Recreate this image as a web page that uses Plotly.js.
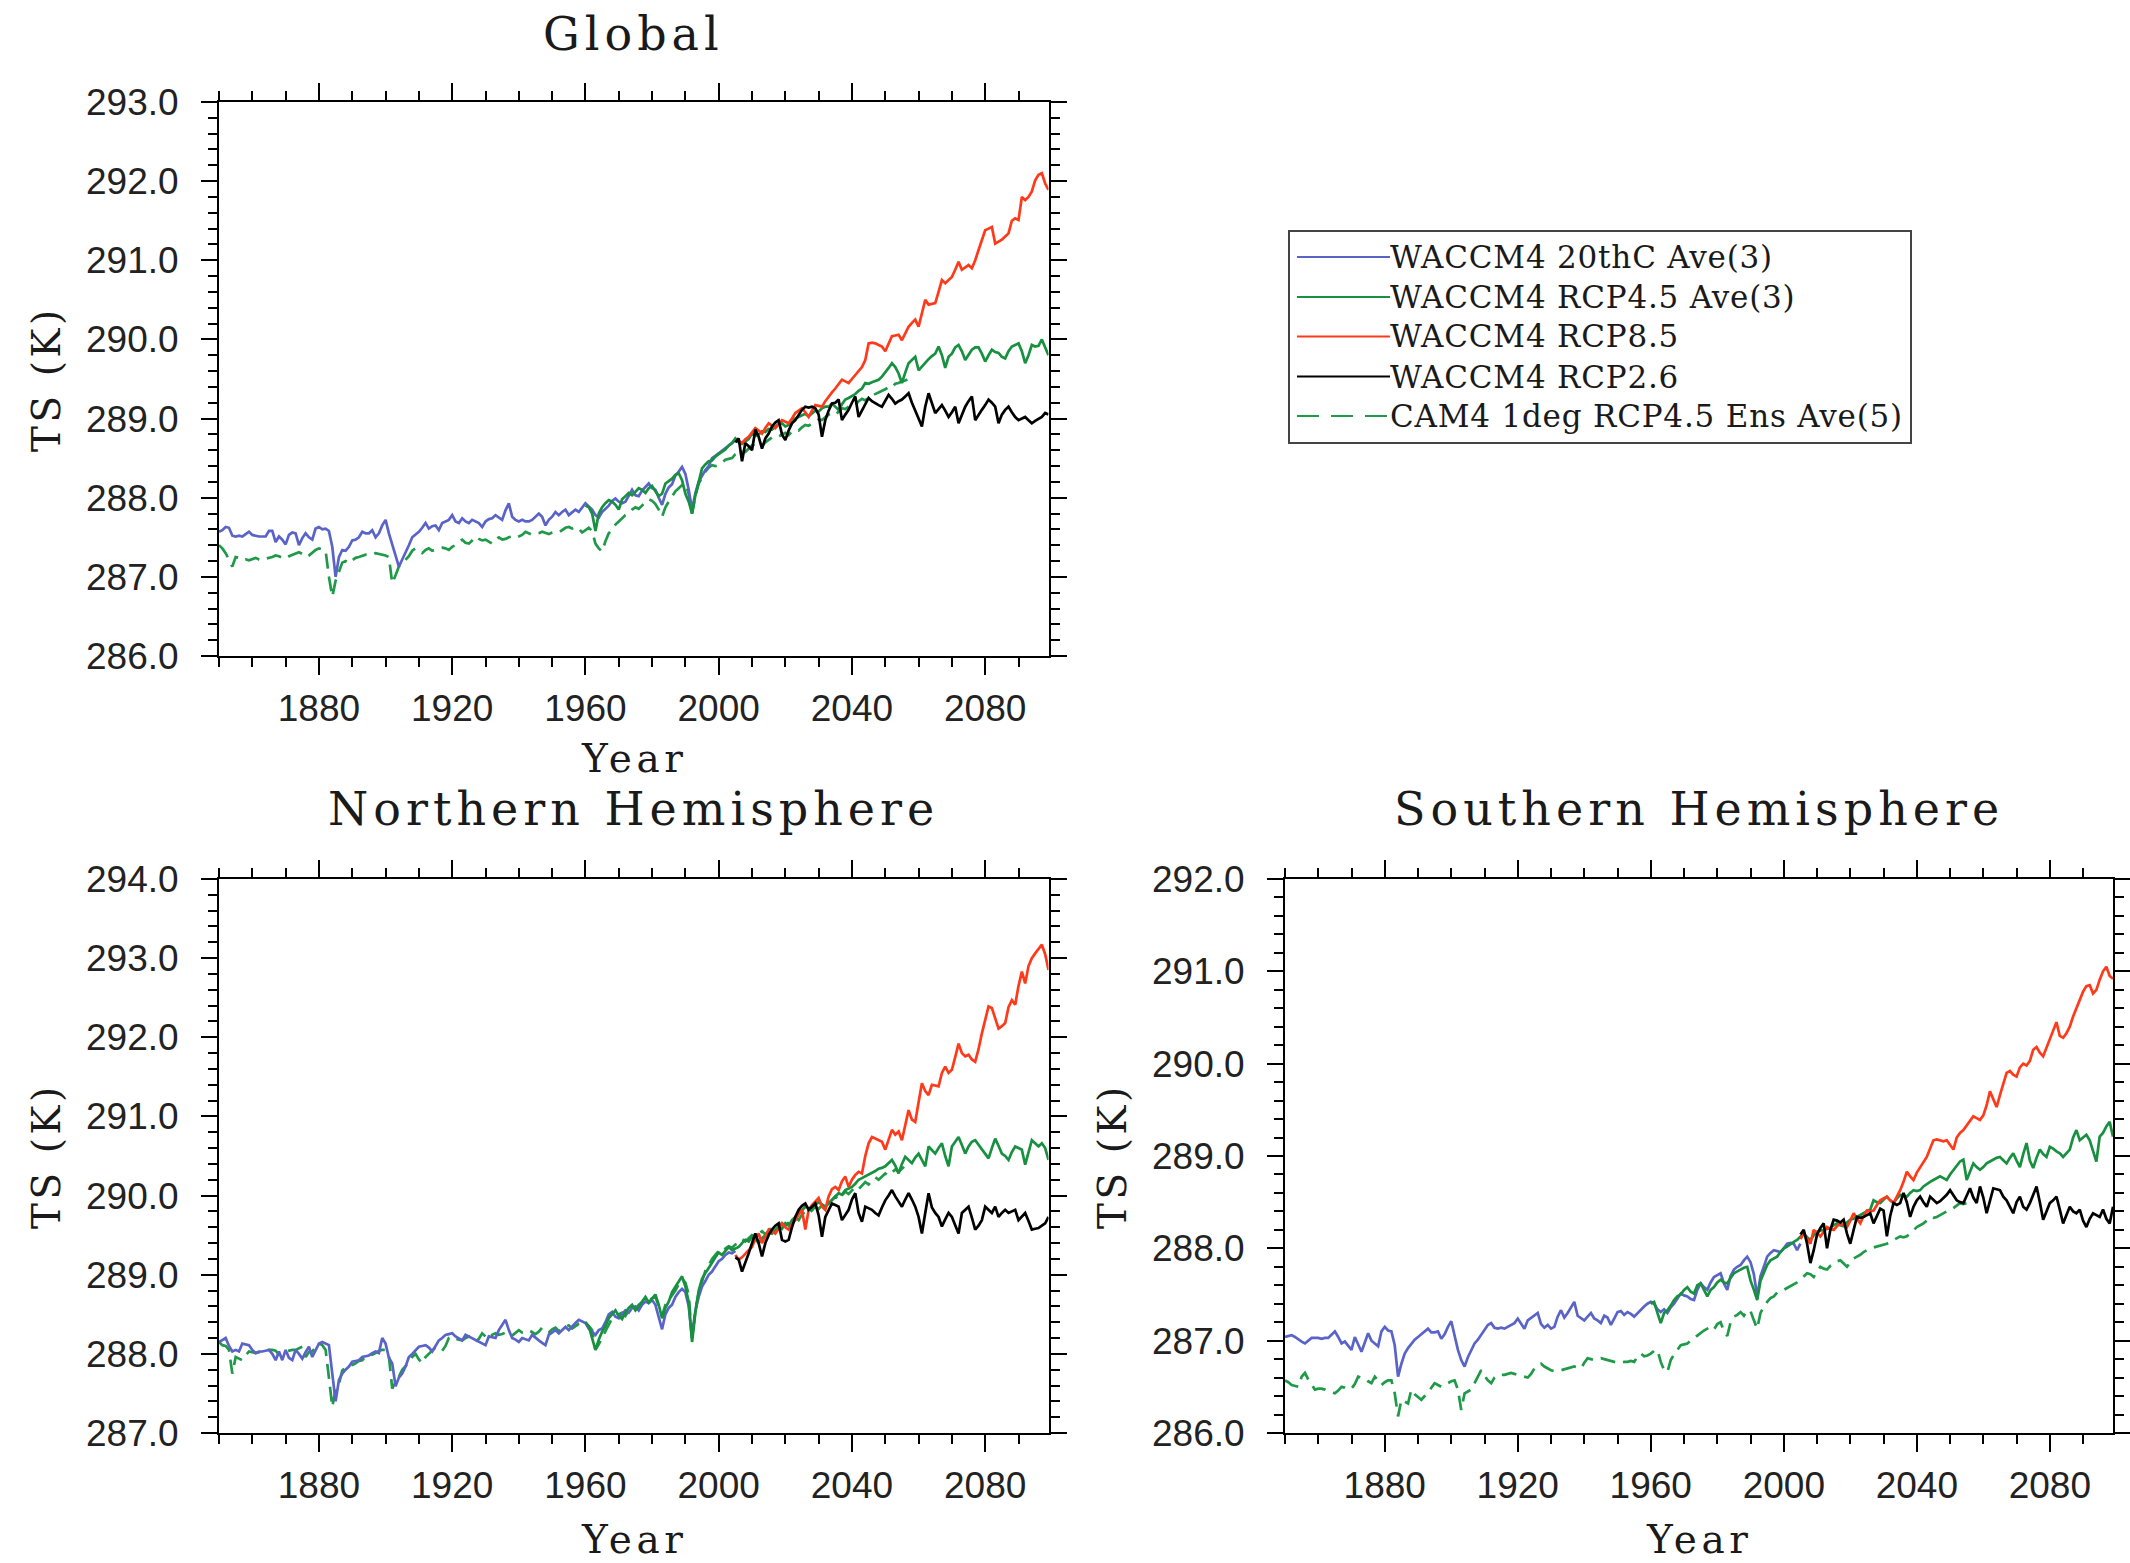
<!DOCTYPE html>
<html>
<head>
<meta charset="utf-8">
<script src="https://cdn.plot.ly/plotly-3.0.1.min.js"></script>
<style>
  html, body { margin: 0; padding: 0; background: #ffffff; }
  #chart { width: 2130px; height: 1563px; }
</style>
</head>
<body>
<div id="chart"></div>
<script>
// Annual-mean surface temperature TS (K): WACCM4 historical and RCP runs, CAM4 ensemble.

// ---------- Global ----------
const globalHist = [ // WACCM4 20thC Ave(3), 1850-2005
  287.57, 287.59, 287.63, 287.62, 287.52, 287.51, 287.52, 287.51, 287.54, 287.57,
  287.53, 287.52, 287.51, 287.51, 287.51, 287.58, 287.58, 287.44, 287.51, 287.47,
  287.41, 287.53, 287.56, 287.55, 287.40, 287.49, 287.55, 287.50, 287.47, 287.61,
  287.63, 287.60, 287.61, 287.58, 287.38, 287.00, 287.25, 287.34, 287.33, 287.38,
  287.46, 287.47, 287.50, 287.57, 287.55, 287.55, 287.59, 287.50, 287.55, 287.65,
  287.72, 287.55, 287.40, 287.25, 287.13, 287.22, 287.30, 287.40, 287.50, 287.53,
  287.57, 287.62, 287.68, 287.61, 287.64, 287.65, 287.59, 287.68, 287.70, 287.72,
  287.78, 287.70, 287.68, 287.74, 287.70, 287.68, 287.72, 287.70, 287.68, 287.63,
  287.70, 287.73, 287.74, 287.78, 287.75, 287.72, 287.84, 287.93, 287.76, 287.72,
  287.70, 287.72, 287.70, 287.70, 287.72, 287.76, 287.80, 287.76, 287.65, 287.72,
  287.76, 287.82, 287.78, 287.82, 287.85, 287.78, 287.82, 287.85, 287.82, 287.88,
  287.93, 287.89, 287.85, 287.78, 287.75, 287.82, 287.86, 287.90, 287.96, 287.99,
  287.95, 287.93, 287.95, 288.02, 288.10, 288.03, 288.02, 288.09, 288.14, 288.18,
  288.12, 288.10, 288.00, 287.91, 288.05, 288.13, 288.17, 288.28, 288.33, 288.39,
  288.30, 288.10, 287.85, 288.06, 288.20, 288.27, 288.35, 288.40, 288.50, 288.53,
  288.56, 288.60, 288.63, 288.65, 288.69, 288.73
];
const globalRcp45 = [ // WACCM4 RCP4.5 Ave(3), 1960-2099
  287.90, 287.88, 287.80, 287.58, 287.80, 287.88, 287.93, 287.97, 287.95, 287.91,
  287.85, 287.98, 288.02, 288.06, 288.03, 288.07, 288.12, 288.10, 288.06, 288.12,
  288.15, 288.08, 288.02, 288.05, 288.18, 288.21, 288.24, 288.29, 288.31, 288.22,
  288.05, 287.95, 287.80, 288.03, 288.20, 288.37, 288.42, 288.46, 288.47, 288.52,
  288.55, 288.58, 288.61, 288.66, 288.69, 288.75, 288.70, 288.68, 288.71, 288.74,
  288.81, 288.78, 288.80, 288.84, 288.83, 288.87, 288.86, 288.90, 288.93, 288.94,
  288.90, 288.92, 288.99, 289.00, 289.02, 289.04, 289.06, 289.03, 289.07, 289.10,
  289.09, 289.13, 289.15, 289.15, 289.19, 289.15, 289.11, 289.18, 289.24, 289.26,
  289.28, 289.31, 289.35, 289.38, 289.45, 289.44, 289.46, 289.48, 289.49, 289.53,
  289.58, 289.64, 289.70, 289.65, 289.57, 289.45, 289.58, 289.70, 289.74, 289.78,
  289.61, 289.66, 289.70, 289.75, 289.79, 289.82, 289.91, 289.80, 289.64, 289.78,
  289.82, 289.90, 289.93, 289.85, 289.74, 289.80, 289.87, 289.90, 289.90, 289.82,
  289.72, 289.80, 289.87, 289.84, 289.83, 289.78, 289.76, 289.85, 289.91, 289.93,
  289.95, 289.85, 289.70, 289.80, 289.93, 289.91, 289.92, 290.00, 289.90, 289.80
];
const globalRcp85 = [ // WACCM4 RCP8.5, 2005-2099
  288.73, 288.72, 288.69, 288.74, 288.77,
  288.83, 288.88, 288.85, 288.81, 288.88, 288.94, 288.91, 288.88, 288.93, 288.98,
  288.96, 288.94, 289.00, 289.07, 289.10, 289.13, 289.08, 289.02, 289.10, 289.17,
  289.16, 289.15, 289.22, 289.28, 289.33, 289.38, 289.44, 289.49, 289.47, 289.45,
  289.50, 289.55, 289.59, 289.65, 289.74, 289.95, 289.96, 289.95, 289.93, 289.91,
  289.85, 289.95, 290.04, 290.05, 290.06, 289.99, 290.08, 290.16, 290.21, 290.25,
  290.16, 290.33, 290.50, 290.44, 290.45, 290.46, 290.60, 290.75, 290.71, 290.75,
  290.79, 290.88, 290.98, 290.88, 290.91, 290.94, 290.90, 291.00, 291.13, 291.25,
  291.38, 291.40, 291.42, 291.21, 291.23, 291.26, 291.30, 291.34, 291.50, 291.53,
  291.51, 291.80, 291.76, 291.80, 291.87, 292.01, 292.08, 292.10, 291.97, 291.89
];
const globalRcp26 = [ // WACCM4 RCP2.6, 2005-2099
  288.70, 288.75, 288.46, 288.69, 288.65,
  288.60, 288.86, 288.77, 288.62, 288.75, 288.81, 288.90, 288.95, 288.98, 288.80,
  288.73, 288.85, 288.94, 288.98, 289.05, 289.11, 289.15, 289.14, 289.15, 289.13,
  289.05, 288.77, 288.98, 289.10, 289.19, 289.20, 289.24, 288.98, 289.05, 289.11,
  289.20, 289.28, 289.02, 289.10, 289.19, 289.26, 289.22, 289.19, 289.17, 289.15,
  289.22, 289.30, 289.25, 289.19, 289.22, 289.24, 289.28, 289.32, 289.20, 289.11,
  289.00, 288.90, 289.15, 289.32, 289.20, 289.07, 289.12, 289.17, 289.10, 289.02,
  289.08, 289.15, 288.94, 289.05, 289.15, 289.22, 289.28, 288.98, 289.05, 289.11,
  289.17, 289.24, 289.20, 289.15, 288.94, 289.05, 289.11, 289.15, 289.08, 289.02,
  288.98, 289.00, 289.02, 288.98, 288.94, 288.97, 289.00, 289.02, 289.07, 289.05
];
const globalCam4 = [ // CAM4 1deg RCP4.5 Ens Ave(5), 1850-2057
  287.40, 287.36, 287.30, 287.22, 287.13, 287.25, 287.24, 287.21, 287.22, 287.21,
  287.23, 287.24, 287.22, 287.21, 287.23, 287.24, 287.25, 287.27, 287.26, 287.24,
  287.23, 287.26, 287.28, 287.30, 287.31, 287.29, 287.25, 287.27, 287.31, 287.34,
  287.36, 287.34, 287.33, 287.00, 286.75, 286.95, 287.08, 287.18, 287.20, 287.17,
  287.21, 287.24, 287.25, 287.27, 287.28, 287.27, 287.28, 287.30, 287.29, 287.28,
  287.27, 287.25, 286.92, 287.02, 287.13, 287.17, 287.21, 287.26, 287.33, 287.36,
  287.33, 287.30, 287.34, 287.36, 287.33, 287.34, 287.36, 287.37, 287.36, 287.34,
  287.38, 287.40, 287.44, 287.47, 287.43, 287.42, 287.46, 287.51, 287.48, 287.46,
  287.47, 287.44, 287.42, 287.47, 287.50, 287.47, 287.48, 287.50, 287.51, 287.49,
  287.51, 287.53, 287.57, 287.55, 287.53, 287.54, 287.55, 287.57, 287.55, 287.54,
  287.56, 287.57, 287.56, 287.59, 287.62, 287.63, 287.61, 287.63, 287.61, 287.56,
  287.59, 287.62, 287.58, 287.42, 287.36, 287.32, 287.45, 287.55, 287.60, 287.66,
  287.70, 287.74, 287.78, 287.80, 287.85, 287.88, 287.86, 287.90, 287.95, 287.98,
  287.96, 287.92, 287.85, 287.76, 287.88, 287.95, 288.02, 288.08, 288.12, 288.16,
  288.18, 288.05, 287.80, 288.02, 288.18, 288.26, 288.33, 288.38, 288.41, 288.40,
  288.41, 288.44, 288.48, 288.49, 288.50, 288.55, 288.57, 288.60, 288.58, 288.62,
  288.66, 288.68, 288.70, 288.65, 288.70, 288.73, 288.76, 288.75, 288.77, 288.80,
  288.82, 288.79, 288.84, 288.86, 288.85, 288.89, 288.92, 288.91, 288.94, 288.97,
  288.99, 288.98, 289.01, 289.05, 289.06, 289.04, 289.09, 289.13, 289.12, 289.15,
  289.18, 289.17, 289.22, 289.25, 289.23, 289.27, 289.29, 289.30, 289.33, 289.34,
  289.37, 289.40, 289.39, 289.44, 289.45, 289.47, 289.48, 289.50
];

// ---------- Northern Hemisphere ----------
const nhHist = [
  288.15, 288.17, 288.20, 288.10, 288.03, 288.05, 288.03, 288.13, 288.12, 288.11,
  288.05, 288.01, 288.03, 288.03, 288.04, 288.05, 288.00, 287.92, 288.03, 287.92,
  288.05, 287.95, 287.92, 288.05, 288.00, 287.94, 288.02, 288.09, 287.96, 288.05,
  288.13, 288.15, 288.13, 288.11, 287.75, 287.40, 287.67, 287.75, 287.80, 287.84,
  287.90, 287.91, 287.92, 287.96, 287.97, 287.98, 288.01, 288.03, 288.01, 288.20,
  288.13, 287.95, 287.88, 287.59, 287.70, 287.75, 287.84, 287.96, 288.00, 288.05,
  288.09, 288.10, 288.11, 288.08, 288.03, 288.10, 288.17, 288.20, 288.24, 288.25,
  288.26, 288.22, 288.20, 288.17, 288.24, 288.22, 288.20, 288.18, 288.15, 288.13,
  288.11, 288.22, 288.21, 288.20, 288.30, 288.36, 288.43, 288.30, 288.20, 288.18,
  288.15, 288.20, 288.18, 288.17, 288.24, 288.20, 288.17, 288.14, 288.11, 288.24,
  288.27, 288.30, 288.26, 288.30, 288.34, 288.30, 288.35, 288.39, 288.43, 288.41,
  288.39, 288.32, 288.28, 288.24, 288.30, 288.32, 288.40, 288.50, 288.53, 288.47,
  288.45, 288.50, 288.55, 288.52, 288.58, 288.60, 288.55, 288.62, 288.66, 288.64,
  288.68, 288.62, 288.45, 288.31, 288.50, 288.58, 288.62, 288.72, 288.78, 288.82,
  288.78, 288.60, 288.20, 288.55, 288.72, 288.85, 288.92, 289.00, 289.04, 289.10,
  289.17, 289.20, 289.25, 289.28, 289.27, 289.30
];
const nhRcp45 = [
  288.40, 288.35, 288.20, 288.05, 288.18, 288.28, 288.35, 288.45, 288.50, 288.55,
  288.48, 288.44, 288.52, 288.58, 288.62, 288.55, 288.60, 288.66, 288.72, 288.65,
  288.70, 288.75, 288.62, 288.45, 288.58, 288.66, 288.78, 288.85, 288.92, 288.98,
  288.85, 288.65, 288.15, 288.52, 288.80, 288.95, 289.02, 289.08, 289.15, 289.22,
  289.28, 289.25, 289.30, 289.35, 289.31, 289.33, 289.35, 289.40, 289.44, 289.42,
  289.48, 289.45, 289.40, 289.46, 289.50, 289.54, 289.52, 289.56, 289.61, 289.58,
  289.65, 289.62, 289.69, 289.73, 289.78, 289.81, 289.86, 289.84, 289.82, 289.88,
  289.92, 289.89, 289.86, 289.90, 289.94, 289.99, 290.03, 290.01, 290.07, 290.09,
  290.11, 290.15, 290.20, 290.22, 290.24, 290.26, 290.28, 290.31, 290.34, 290.35,
  290.37, 290.41, 290.45, 290.38, 290.28, 290.40, 290.49, 290.45, 290.41, 290.48,
  290.53, 290.45, 290.37, 290.62, 290.57, 290.53, 290.60, 290.66, 290.50, 290.37,
  290.62, 290.68, 290.74, 290.64, 290.53, 290.62, 290.68, 290.70, 290.64, 290.58,
  290.52, 290.47, 290.60, 290.72, 290.63, 290.53, 290.50, 290.45, 290.55, 290.62,
  290.60, 290.58, 290.39, 290.55, 290.70, 290.66, 290.62, 290.66, 290.60, 290.45
];
const nhRcp85 = [
  289.25, 289.19, 289.22, 289.27, 289.31,
  289.35, 289.45, 289.52, 289.40, 289.48, 289.57, 289.55, 289.52, 289.58, 289.65,
  289.60, 289.57, 289.64, 289.69, 289.76, 289.82, 289.57, 289.82, 289.88, 289.92,
  289.97, 289.86, 289.82, 289.99, 290.08, 290.11, 290.07, 290.18, 290.24, 290.11,
  290.20, 290.26, 290.30, 290.28, 290.50, 290.66, 290.74, 290.72, 290.70, 290.68,
  290.58, 290.70, 290.83, 290.77, 290.81, 290.70, 290.90, 291.08, 290.96, 290.93,
  291.18, 291.42, 291.32, 291.27, 291.40, 291.39, 291.38, 291.55, 291.63, 291.55,
  291.59, 291.75, 291.92, 291.80, 291.76, 291.78, 291.72, 291.69, 291.85, 292.05,
  292.22, 292.39, 292.37, 292.25, 292.11, 292.14, 292.18, 292.38, 292.47, 292.41,
  292.65, 292.83, 292.68, 292.90, 293.00, 293.06, 293.12, 293.17, 293.05, 292.85
];
const nhRcp26 = [
  289.22, 289.19, 289.04, 289.15, 289.27,
  289.40, 289.52, 289.40, 289.23, 289.40, 289.50, 289.57, 289.62, 289.65, 289.44,
  289.42, 289.44, 289.60, 289.73, 289.82, 289.87, 289.90, 289.82, 289.86, 289.90,
  289.75, 289.48, 289.73, 289.82, 289.90, 289.88, 289.86, 289.69, 289.76, 289.82,
  289.95, 290.03, 289.78, 289.67, 289.86, 289.84, 289.82, 289.78, 289.75, 289.85,
  289.94, 290.00, 290.07, 289.99, 289.92, 289.86, 289.95, 290.03, 289.95, 289.86,
  289.73, 289.52, 289.78, 290.03, 289.85, 289.78, 289.73, 289.61, 289.70, 289.78,
  289.73, 289.62, 289.52, 289.78, 289.82, 289.86, 289.72, 289.57, 289.62, 289.69,
  289.86, 289.82, 289.78, 289.86, 289.73, 289.78, 289.82, 289.78, 289.80, 289.82,
  289.69, 289.74, 289.78, 289.68, 289.57, 289.58, 289.59, 289.62, 289.65, 289.73
];
const nhCam4 = [
  288.15, 288.11, 288.10, 288.05, 287.75, 287.96, 287.94, 287.92, 287.98, 288.03,
  288.02, 288.01, 288.02, 288.03, 288.04, 288.05, 288.05, 288.04, 287.99, 288.02,
  288.03, 288.04, 288.05, 288.05, 288.07, 288.09, 287.96, 288.02, 288.03, 288.08,
  288.13, 288.11, 288.05, 287.70, 287.33, 287.55, 287.62, 287.79, 287.83, 287.85,
  287.86, 287.88, 287.91, 287.92, 287.97, 287.98, 287.99, 288.01, 288.04, 288.05,
  288.05, 287.97, 287.56, 287.65, 287.71, 287.80, 287.85, 287.89, 287.96, 288.00,
  287.93, 287.88, 287.96, 288.00, 288.05, 288.08, 288.05, 288.04, 288.10, 288.20,
  288.22, 288.19, 288.18, 288.17, 288.20, 288.22, 288.18, 288.15, 288.19, 288.26,
  288.22, 288.19, 288.24, 288.26, 288.24, 288.25, 288.27, 288.28, 288.23, 288.26,
  288.30, 288.27, 288.28, 288.30, 288.27, 288.25, 288.28, 288.33, 288.30, 288.27,
  288.31, 288.33, 288.29, 288.31, 288.34, 288.36, 288.32, 288.35, 288.38, 288.39,
  288.37, 288.35, 288.30, 288.05, 288.12, 288.20, 288.30, 288.38, 288.45, 288.48,
  288.50, 288.52, 288.48, 288.55, 288.60, 288.57, 288.62, 288.65, 288.63, 288.68,
  288.70, 288.72, 288.60, 288.48, 288.62, 288.68, 288.75, 288.80, 288.88, 288.95,
  288.90, 288.75, 288.20, 288.55, 288.78, 288.92, 289.05, 289.12, 289.20, 289.25,
  289.30, 289.28, 289.33, 289.36, 289.34, 289.38, 289.40, 289.45, 289.42, 289.46,
  289.50, 289.48, 289.52, 289.55, 289.51, 289.56, 289.60, 289.58, 289.63, 289.65,
  289.62, 289.66, 289.71, 289.73, 289.69, 289.76, 289.80, 289.77, 289.82, 289.86,
  289.83, 289.88, 289.93, 289.90, 289.94, 289.99, 289.95, 290.00, 290.05, 290.02,
  290.06, 290.11, 290.08, 290.12, 290.17, 290.14, 290.18, 290.23, 290.20, 290.24,
  290.28, 290.25, 290.29, 290.33, 290.30, 290.34, 290.38, 290.36
];

// ---------- Southern Hemisphere ----------
const shHist = [
  287.04, 287.05, 287.06, 287.04, 287.01, 286.99, 286.97, 287.00, 287.03, 287.03,
  287.03, 287.02, 287.03, 287.03, 287.06, 287.10, 287.04, 286.97, 286.99, 286.95,
  286.90, 287.04, 286.96, 286.88, 286.98, 287.08, 287.00, 286.97, 286.94, 287.10,
  287.15, 287.11, 287.10, 286.95, 286.61, 286.75, 286.86, 286.92, 286.97, 287.01,
  287.04, 287.07, 287.10, 287.13, 287.09, 287.09, 287.10, 287.02, 287.07, 287.15,
  287.21, 287.05, 286.90, 286.79, 286.72, 286.82, 286.90, 286.97, 287.01, 287.06,
  287.12, 287.17, 287.19, 287.14, 287.13, 287.14, 287.13, 287.15, 287.17, 287.19,
  287.24, 287.18, 287.13, 287.22, 287.25, 287.27, 287.30, 287.18, 287.14, 287.17,
  287.13, 287.15, 287.26, 287.33, 287.25, 287.30, 287.36, 287.42, 287.27, 287.24,
  287.22, 287.26, 287.30, 287.24, 287.22, 287.19, 287.27, 287.25, 287.17, 287.24,
  287.31, 287.32, 287.28, 287.31, 287.29, 287.26, 287.30, 287.33, 287.37, 287.40,
  287.42, 287.40, 287.34, 287.31, 287.34, 287.30, 287.36, 287.40, 287.46, 287.51,
  287.49, 287.48, 287.45, 287.44, 287.55, 287.62, 287.58, 287.55, 287.63, 287.69,
  287.71, 287.73, 287.62, 287.55, 287.70, 287.77, 287.80, 287.82, 287.87, 287.91,
  287.85, 287.72, 287.48, 287.70, 287.80, 287.91, 287.95, 287.98, 287.97, 287.96,
  288.00, 288.05, 288.06, 288.05, 287.98, 288.05
];
const shRcp45 = [
  287.40, 287.42, 287.30, 287.19, 287.30, 287.33, 287.38, 287.44, 287.48, 287.50,
  287.55, 287.58, 287.53, 287.51, 287.60, 287.62, 287.55, 287.48, 287.55, 287.58,
  287.63, 287.66, 287.63, 287.62, 287.68, 287.73, 287.75, 287.77, 287.79, 287.80,
  287.65, 287.55, 287.44, 287.65, 287.73, 287.82, 287.87, 287.89, 287.91, 287.96,
  288.00, 288.02, 288.05, 288.07, 288.09, 288.13, 288.16, 288.12, 288.09, 288.14,
  288.18, 288.19, 288.20, 288.21, 288.22, 288.25, 288.27, 288.25, 288.24, 288.28,
  288.31, 288.32, 288.34, 288.36, 288.38, 288.40, 288.42, 288.52, 288.50, 288.49,
  288.52, 288.56, 288.52, 288.49, 288.54, 288.58, 288.57, 288.56, 288.60, 288.63,
  288.62, 288.63, 288.67, 288.70, 288.72, 288.74, 288.76, 288.78, 288.76, 288.74,
  288.80, 288.85, 288.90, 288.94, 288.96, 288.74, 288.83, 288.92, 288.88, 288.85,
  288.88, 288.92, 288.94, 288.96, 288.98, 288.99, 288.96, 288.92, 288.98, 289.03,
  288.95, 288.88, 289.02, 289.14, 288.95, 288.87, 288.98, 289.07, 289.02, 288.99,
  289.10, 289.08, 289.05, 289.03, 288.99, 289.03, 289.07, 289.20, 289.28, 289.17,
  289.20, 289.23, 289.17, 289.05, 288.94, 289.21, 289.25, 289.32, 289.37, 289.21
];
const shRcp85 = [
  288.10, 288.16, 288.10, 288.05, 288.20,
  288.16, 288.13, 288.18, 288.23, 288.21, 288.20, 288.24, 288.27, 288.25, 288.23,
  288.30, 288.38, 288.32, 288.27, 288.35, 288.41, 288.40, 288.41, 288.47, 288.52,
  288.54, 288.56, 288.52, 288.49, 288.56, 288.63, 288.72, 288.83, 288.78, 288.74,
  288.82, 288.88, 288.94, 288.99, 289.08, 289.17, 289.18, 289.17, 289.16, 289.17,
  289.12, 289.07, 289.20, 289.25, 289.28, 289.33, 289.38, 289.43, 289.41, 289.39,
  289.44, 289.55, 289.70, 289.62, 289.53, 289.66, 289.79, 289.90, 289.92, 289.88,
  289.86, 289.96, 290.00, 289.98, 290.03, 290.15, 290.18, 290.12, 290.08, 290.17,
  290.26, 290.35, 290.45, 290.30, 290.28, 290.33, 290.40, 290.51, 290.60, 290.68,
  290.78, 290.84, 290.85, 290.76, 290.80, 290.91, 291.00, 291.05, 290.95, 290.92
];
const shRcp26 = [
  288.15, 288.20, 288.05, 287.84, 287.98,
  288.15, 288.22, 288.27, 288.00, 288.20, 288.31, 288.30, 288.28, 288.31, 288.16,
  288.05, 288.20, 288.34, 288.33, 288.34, 288.36, 288.38, 288.27, 288.35, 288.43,
  288.41, 288.13, 288.35, 288.49, 288.47, 288.49, 288.60, 288.50, 288.34, 288.45,
  288.52, 288.56, 288.50, 288.45, 288.56, 288.53, 288.49, 288.51, 288.54, 288.58,
  288.63, 288.58, 288.52, 288.50, 288.49, 288.57, 288.65, 288.55, 288.49, 288.67,
  288.55, 288.38, 288.52, 288.65, 288.64, 288.63, 288.56, 288.52, 288.45, 288.38,
  288.50, 288.56, 288.45, 288.42, 288.49, 288.58, 288.67, 288.50, 288.31, 288.40,
  288.49, 288.52, 288.56, 288.42, 288.27, 288.36, 288.45, 288.40, 288.38, 288.42,
  288.30, 288.23, 288.32, 288.38, 288.36, 288.34, 288.42, 288.32, 288.27, 288.45
];
const shCam4 = [
  286.57, 286.55, 286.52, 286.51, 286.50, 286.61, 286.65, 286.58, 286.52, 286.47,
  286.48, 286.48, 286.47, 286.45, 286.44, 286.43, 286.46, 286.50, 286.49, 286.47,
  286.48, 286.53, 286.61, 286.60, 286.59, 286.56, 286.54, 286.61, 286.56, 286.52,
  286.55, 286.57, 286.57, 286.43, 286.18, 286.36, 286.34, 286.32, 286.47, 286.42,
  286.39, 286.36, 286.40, 286.43, 286.49, 286.54, 286.52, 286.50, 286.52, 286.54,
  286.56, 286.57, 286.47, 286.25, 286.43, 286.45, 286.47, 286.54, 286.61, 286.68,
  286.62, 286.57, 286.54, 286.60, 286.63, 286.63, 286.63, 286.64, 286.65, 286.64,
  286.63, 286.62, 286.61, 286.60, 286.64, 286.70, 286.72, 286.75, 286.72, 286.70,
  286.68, 286.67, 286.68, 286.68, 286.69, 286.70, 286.71, 286.72, 286.71, 286.70,
  286.76, 286.81, 286.80, 286.79, 286.80, 286.81, 286.80, 286.79, 286.78, 286.77,
  286.76, 286.76, 286.77, 286.77, 286.78, 286.77, 286.83, 286.86, 286.83, 286.84,
  286.86, 286.89, 286.90, 286.77, 286.68, 286.66, 286.79, 286.85, 286.90, 286.95,
  286.96, 286.97, 287.00, 287.03, 287.05, 287.08, 287.11, 287.13, 287.15, 287.12,
  287.18, 287.20, 287.10, 287.05, 287.20, 287.26, 287.28, 287.31, 287.27, 287.33,
  287.32, 287.22, 287.13, 287.30, 287.37, 287.42, 287.46, 287.48, 287.52, 287.54,
  287.55, 287.57, 287.59, 287.61, 287.63, 287.66, 287.70, 287.73, 287.72, 287.69,
  287.75, 287.80, 287.78, 287.77, 287.81, 287.84, 287.86, 287.87, 287.84, 287.80,
  287.85, 287.89, 287.91, 287.93, 287.96, 287.98, 288.00, 288.01, 288.02, 288.03,
  288.04, 288.05, 288.07, 288.09, 288.11, 288.13, 288.12, 288.13, 288.16, 288.20,
  288.23, 288.25, 288.27, 288.30, 288.34, 288.33, 288.34, 288.36, 288.38, 288.40,
  288.41, 288.44, 288.47, 288.49, 288.48, 288.49, 288.51, 288.52
];

// First year of each run
const histStart = 1850, rcp45Start = 1960, rcpStart = 2005, cam4Start = 1850;

const seriesNames = [
  'WACCM4 20thC Ave(3)',
  'WACCM4 RCP4.5 Ave(3)',
  'WACCM4 RCP8.5',
  'WACCM4 RCP2.6',
  'CAM4 1deg RCP4.5 Ens Ave(5)'
];
const panelTitles = ['Global', 'Northern Hemisphere', 'Southern Hemisphere'];
const yRanges = [[286, 293], [287, 294], [286, 292]];
const xRange = [1850, 2099];

// ---------- styling ----------
const W = 2130, H = 1563;
const COLORS = { hist: '#5a64c8', rcp45: '#17903f', rcp85: '#ff3a1a', rcp26: '#000000', cam4: '#1f9a48' };
const DASH = '15px,8px';
const LW = 2.7;
const serif = 'DejaVu Serif, Liberation Serif, serif';
const sans = 'Liberation Sans, Arial, Helvetica, sans-serif';
const px = v => v / W;            // pixel -> paper x
const py = v => 1 - v / H;        // pixel -> paper y

function yearsFrom(start, n) {
  const out = [];
  for (let i = 0; i < n; i++) out.push(start + i);
  return out;
}

// plot boxes in pixels: [left, right, top, bottom]
const boxes = [
  [219, 1048.5, 102, 656],
  [219, 1048.5, 879, 1433],
  [1285, 2113, 879, 1433]
];
const titleY = [34, 809, 809];
const yearY = [759, 1539, 1539];

const panels = [
  { hist: globalHist, rcp45: globalRcp45, rcp85: globalRcp85, rcp26: globalRcp26, cam4: globalCam4 },
  { hist: nhHist, rcp45: nhRcp45, rcp85: nhRcp85, rcp26: nhRcp26, cam4: nhCam4 },
  { hist: shHist, rcp45: shRcp45, rcp85: shRcp85, rcp26: shRcp26, cam4: shCam4 }
];

function lineTrace(start, vals, color, dash, i, name) {
  const sfx = i === 0 ? '' : String(i + 1);
  return {
    type: 'scatter', mode: 'lines',
    x: yearsFrom(start, vals.length), y: vals,
    xaxis: 'x' + sfx, yaxis: 'y' + sfx,
    name: name, showlegend: false, hoverinfo: 'skip',
    line: { color: color, width: LW, dash: dash }
  };
}

const traces = [];
panels.forEach((p, i) => {
  traces.push(lineTrace(cam4Start, p.cam4, COLORS.cam4, DASH, i, seriesNames[4]));
  traces.push(lineTrace(histStart, p.hist, COLORS.hist, 'solid', i, seriesNames[0]));
  traces.push(lineTrace(rcp45Start, p.rcp45, COLORS.rcp45, 'solid', i, seriesNames[1]));
  traces.push(lineTrace(rcpStart, p.rcp85, COLORS.rcp85, 'solid', i, seriesNames[2]));
  traces.push(lineTrace(rcpStart, p.rcp26, COLORS.rcp26, 'solid', i, seriesNames[3]));
});

const tickFont = { family: sans, size: 37, color: '#222222' };

function xAxis(b, anchor) {
  return {
    domain: [px(b[0]), px(b[1])], anchor: anchor, range: xRange,
    tickmode: 'linear', tick0: 1880, dtick: 40,
    ticks: 'outside', ticklen: 17, tickwidth: 2, tickcolor: '#000',
    minor: { tickmode: 'linear', tick0: 1850, dtick: 10, ticks: 'outside', ticklen: 9, tickwidth: 2, tickcolor: '#000', showgrid: false },
    showline: true, linewidth: 2, linecolor: '#000', mirror: 'allticks',
    showgrid: false, zeroline: false, tickfont: tickFont, ticklabelstandoff: 2,
    fixedrange: true
  };
}
function yAxis(b, anchor, range) {
  return {
    domain: [py(b[3]), py(b[2])], anchor: anchor, range: range,
    tickmode: 'linear', tick0: range[0], dtick: 1, tickformat: '.1f',
    ticks: 'outside', ticklen: 16, tickwidth: 2, tickcolor: '#000',
    minor: { tickmode: 'linear', tick0: range[0], dtick: 0.2, ticks: 'outside', ticklen: 9, tickwidth: 2, tickcolor: '#000', showgrid: false },
    showline: true, linewidth: 2, linecolor: '#000', mirror: 'allticks',
    showgrid: false, zeroline: false, tickfont: tickFont, ticklabelstandoff: 15,
    fixedrange: true
  };
}

const annotations = [];
const titleFont = { family: serif, size: 46, color: '#1a1a1a' };
const axisTitleFont = { family: serif, size: 39, color: '#1a1a1a' };
const spaced = (t, s) => '<span style="letter-spacing:' + s + 'px">' + t + '</span>';

boxes.forEach((b, i) => {
  const cx = (b[0] + b[1]) / 2;
  annotations.push({ xref: 'paper', yref: 'paper', x: px(cx), y: py(titleY[i]), text: spaced(panelTitles[i], 5),
    showarrow: false, xanchor: 'center', yanchor: 'middle', font: titleFont });
  annotations.push({ xref: 'paper', yref: 'paper', x: px(cx), y: py(yearY[i]), text: spaced('Year', 4.5),
    showarrow: false, xanchor: 'center', yanchor: 'middle', font: axisTitleFont });
  annotations.push({ xref: 'paper', yref: 'paper', x: px(b[0] - 173), y: py((b[2] + b[3]) / 2), text: spaced('TS (K)', 3.5),
    textangle: -90, showarrow: false, xanchor: 'center', yanchor: 'middle', font: axisTitleFont });
});

// legend box with long line samples
const legendBox = [1289, 1911, 231, 443];
const legendRows = [257, 297, 336.5, 376.5, 416];
const legendColors = [COLORS.hist, COLORS.rcp45, COLORS.rcp85, COLORS.rcp26, COLORS.cam4];
const legendDash = ['solid', 'solid', 'solid', 'solid', 'dash'];
const shapes = [{
  type: 'rect', xref: 'paper', yref: 'paper',
  x0: px(legendBox[0]), x1: px(legendBox[1]), y0: py(legendBox[3]), y1: py(legendBox[2]),
  line: { color: '#444444', width: 2 }, fillcolor: 'rgba(0,0,0,0)'
}];
seriesNames.forEach((name, k) => {
  shapes.push({
    type: 'line', xref: 'paper', yref: 'paper',
    x0: px(1297), x1: px(1390), y0: py(legendRows[k]), y1: py(legendRows[k]),
    line: { color: legendColors[k], width: 2, dash: legendDash[k] === 'dash' ? '22px,12px' : 'solid' }
  });
  annotations.push({
    xref: 'paper', yref: 'paper', x: px(1388), y: py(legendRows[k]), text: spaced(name, 0.8),
    showarrow: false, xanchor: 'left', yanchor: 'middle',
    font: { family: serif, size: 31, color: '#1a1a1a' }
  });
});

const layout = {
  width: W, height: H, autosize: false,
  margin: { l: 0, r: 0, t: 0, b: 0, pad: 0 },
  paper_bgcolor: '#ffffff', plot_bgcolor: '#ffffff',
  showlegend: false,
  xaxis: xAxis(boxes[0], 'y'), yaxis: yAxis(boxes[0], 'x', yRanges[0]),
  xaxis2: xAxis(boxes[1], 'y2'), yaxis2: yAxis(boxes[1], 'x2', yRanges[1]),
  xaxis3: xAxis(boxes[2], 'y3'), yaxis3: yAxis(boxes[2], 'x3', yRanges[2]),
  annotations: annotations,
  shapes: shapes
};

Plotly.newPlot('chart', traces, layout, { staticPlot: true, displayModeBar: false });
</script>
</body>
</html>
